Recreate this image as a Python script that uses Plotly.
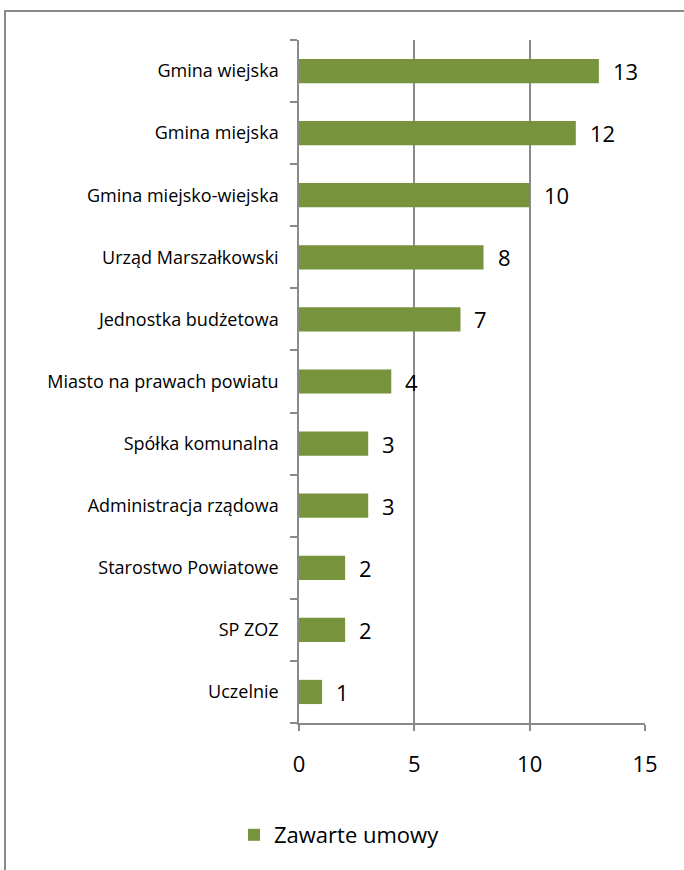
import plotly.graph_objects as go

categories = ["Uczelnie", "SP ZOZ", "Starostwo Powiatowe", "Administracja rządowa",
              "Spółka komunalna", "Miasto na prawach powiatu", "Jednostka budżetowa",
              "Urząd Marszałkowski", "Gmina miejsko-wiejska", "Gmina miejska", "Gmina wiejska"]
values = [1, 2, 2, 3, 3, 4, 7, 8, 10, 12, 13]
series_name = "Zawarte umowy"
x_ticks = [0, 5, 10, 15]

FONT = "'Open Sans', Calibri, Carlito, sans-serif"
GRID = "#8a8a8a"

fig = go.Figure()
fig.add_trace(go.Bar(
    y=categories, x=values, orientation="h", name=series_name,
    marker=dict(color="#77933C", line=dict(width=0)),
    cliponaxis=False, showlegend=True,
))

for c, v in zip(categories, values):
    fig.add_annotation(x=v, y=c, text=str(v), showarrow=False, xanchor="left",
                       xshift=12, font=dict(size=22, family=FONT, color="black"))

W, H = 684, 870
L, R, T, B = 299, 39, 40, 147
pw, ph = W - L - R, H - T - B
def px_x(p): return (p - L) / pw
def px_y(p): return (H - B - p) / ph

fig.update_layout(
    width=W, height=H,
    margin=dict(l=L, r=R, t=T, b=B, pad=0),
    paper_bgcolor="white", plot_bgcolor="white",
    font=dict(family=FONT, color="black"),
    bargap=0.61,
    xaxis=dict(range=[0, 15], tickvals=x_ticks, showgrid=True, gridcolor=GRID, gridwidth=1.5,
               showline=True, linecolor=GRID, linewidth=1.5, ticks="outside", ticklen=6,
               tickcolor=GRID, tickwidth=1.5, tickfont=dict(size=22, family=FONT, color="black"),
               ticklabelstandoff=15, zeroline=False, fixedrange=True),
    yaxis=dict(type="category", categoryorder="array", categoryarray=categories,
               showline=True, linecolor=GRID, linewidth=1.5, ticks="outside", ticklen=7,
               tickcolor=GRID, tickwidth=1.5, tickson="boundaries",
               tickfont=dict(size=18, family=FONT, color="black"),
               ticklabelstandoff=15, showgrid=False, fixedrange=True),
    legend=dict(orientation="h", x=px_x(234), xanchor="left", y=px_y(835), yanchor="middle",
                font=dict(size=22, family=FONT, color="black"), bgcolor="rgba(0,0,0,0)"),
    shapes=[dict(type="rect", xref="paper", yref="paper",
                 x0=px_x(5), x1=px_x(700), y0=px_y(890), y1=px_y(11),
                 line=dict(color="#8a8a8a", width=2), fillcolor="rgba(0,0,0,0)", layer="below")],
)

fig.write_html("out.html", config={"displayModeBar": False},
               post_script="document.body.style.margin='0';document.body.style.overflow='hidden';")
